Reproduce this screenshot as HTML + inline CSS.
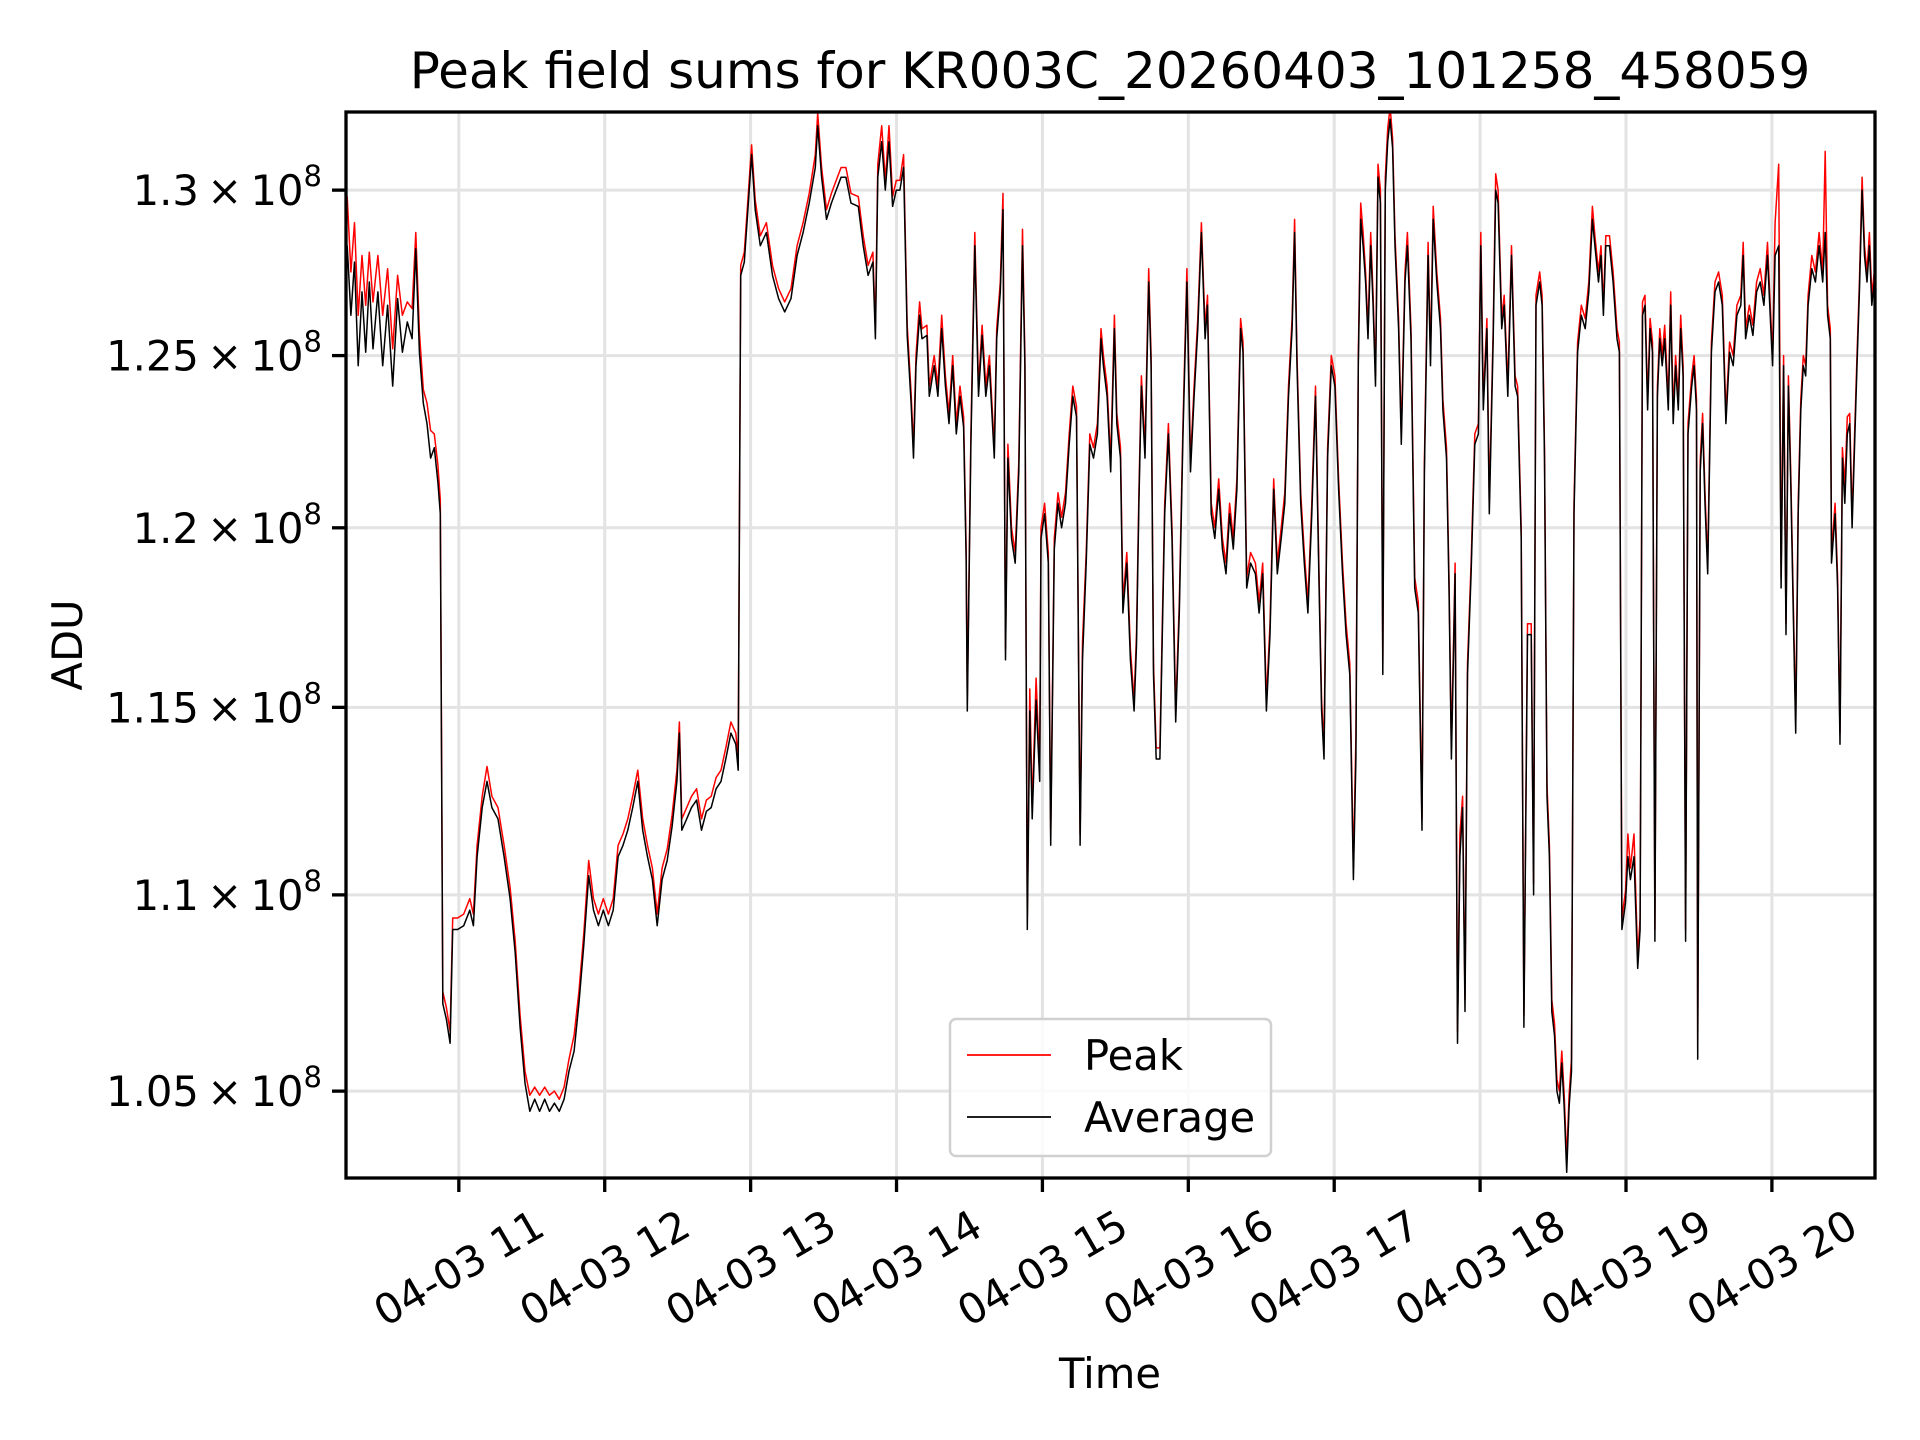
<!DOCTYPE html>
<html><head><meta charset="utf-8">
<style>
html,body{margin:0;padding:0;background:#fff;}
svg{display:block;font-family:"DejaVu Sans","Liberation Sans",sans-serif;}
</style></head>
<body>
<svg id="chart" width="1920" height="1440" viewBox="0 0 1920 1440">
  <defs><clipPath id="plotclip"><rect x="346" y="112" width="1529" height="1066"/></clipPath></defs>
  <rect x="0" y="0" width="1920" height="1440" fill="#fff"/>
  <g id="grid"></g>
  <g id="series" clip-path="url(#plotclip)"></g>
  <rect x="346" y="112" width="1529" height="1066" fill="none" stroke="#000" stroke-width="3.3"/>
  <g id="xticks"></g>
  <g id="yticks"></g>
  <text x="1110" y="88" font-size="50" text-anchor="middle">Peak field sums for KR003C_20260403_101258_458059</text>
  <text x="1110" y="1388" font-size="41.7" text-anchor="middle">Time</text>
  <text x="0" y="0" font-size="41.7" text-anchor="middle" transform="translate(82,645) rotate(-90)">ADU</text>
  <g>
    <rect x="950" y="1019" width="321" height="137" rx="6" fill="#fff" fill-opacity="0.8" stroke="#d0d0d0" stroke-width="2.5"/>
    <line x1="967" y1="1055" x2="1051" y2="1055" stroke="#ff0000" stroke-width="1.7"/>
    <text x="1084" y="1070" font-size="41.7">Peak</text>
    <line x1="967" y1="1117" x2="1051" y2="1117" stroke="#000" stroke-width="1.7"/>
    <text x="1084" y="1132" font-size="41.7">Average</text>
  </g>
</svg>
<script>
const timesMin = [
14.1,15.6,17.1,18.6,20.2,21.7,23.2,24.7,26.7,28.7,
30.7,32.8,34.8,36.8,38.8,40.8,42.3,43.8,45.4,46.9,
48.4,49.9,51.4,52.4,53.4,54.9,56.4,57.5,59.5,62.0,
64.5,66.0,67.5,69.6,71.6,73.6,76.1,78.6,81.1,83.2,
85.2,87.2,89.2,91.2,93.2,95.3,97.3,99.3,101.3,103.3,
105.3,107.4,109.4,111.4,113.4,115.4,117.4,119.4,121.5,123.5,
125.5,127.5,129.5,131.5,133.6,135.6,137.6,139.6,141.6,143.6,
145.7,147.7,149.7,150.7,151.7,153.7,155.7,157.8,159.8,161.8,
163.8,165.8,167.8,169.8,171.9,173.9,174.9,175.9,177.4,178.9,
180.4,181.9,184.0,186.5,189.0,191.5,194.0,196.6,199.1,201.6,
204.1,206.6,207.6,209.2,211.2,213.2,215.2,217.2,219.2,221.3,
224.3,226.3,228.3,230.3,231.3,232.3,233.9,235.4,236.9,238.4,
239.9,241.4,242.9,244.4,246.0,247.0,248.0,249.5,250.5,252.5,
253.5,255.5,257.0,258.6,260.1,261.6,263.1,264.6,266.1,267.6,
268.6,269.1,270.6,272.2,273.7,275.2,276.7,278.2,280.2,281.2,
282.7,283.8,284.8,285.8,287.3,288.8,290.3,291.8,292.8,293.8,
294.8,295.8,297.4,298.9,299.4,300.9,302.4,303.4,304.9,306.4,
307.9,309.5,311.0,312.5,314.0,315.5,316.5,318.0,319.5,321.0,
322.6,324.1,325.1,326.6,328.1,329.6,330.6,332.1,333.1,334.7,
336.2,337.7,338.7,339.7,340.7,342.2,343.7,344.7,345.7,346.8,
348.3,349.3,350.3,351.8,353.3,354.8,356.3,357.8,359.4,360.9,
362.4,363.9,365.4,366.9,367.9,369.4,370.9,372.5,374.0,375.5,
377.0,378.5,380.0,381.5,382.5,384.0,385.6,387.6,389.1,390.6,
392.1,393.6,395.1,396.6,398.2,399.7,401.2,402.7,403.7,404.7,
406.2,407.7,409.2,410.8,412.3,413.8,414.8,415.8,417.3,418.8,
420.3,421.8,423.4,424.9,426.4,427.9,428.9,429.9,430.9,431.9,
432.9,433.9,435.0,436.0,437.0,438.0,439.0,440.0,441.0,442.0,
443.0,444.0,445.0,446.5,447.6,449.1,450.1,451.6,453.1,454.6,
456.1,457.1,458.6,459.6,460.7,462.2,463.7,464.7,466.2,467.2,
468.2,469.7,470.7,471.7,472.8,473.8,474.8,476.3,477.8,479.3,
480.3,481.3,482.8,483.8,485.4,486.4,487.4,488.9,489.9,491.4,
492.9,494.4,495.4,496.9,498.0,499.5,501.0,502.0,503.0,504.5,
505.5,506.5,507.5,508.5,509.5,510.6,511.6,512.6,513.6,514.6,
515.6,516.6,517.6,518.6,520.1,521.6,523.2,524.7,526.2,527.2,
528.7,529.7,530.7,531.7,533.2,534.7,536.3,537.3,538.3,539.8,
540.8,541.8,543.3,544.8,545.8,546.8,547.8,548.9,549.9,550.9,
551.9,552.9,553.9,554.9,555.9,557.4,558.4,559.4,560.4,561.5,
562.5,563.5,564.5,565.5,567.0,568.0,569.0,569.5,570.5,571.5,
572.5,573.6,575.1,576.6,578.1,579.6,581.1,582.6,584.1,585.6,
587.2,588.2,589.2,590.7,592.2,593.7,595.2,596.7,598.2,599.3,
600.3,601.3,602.8,603.8,604.8,605.8,606.8,607.8,608.8,609.8,
610.8,611.9,612.9,613.9,614.9,616.4,617.9,619.4,620.9,621.9,
622.9,624.0,624.5,626.0,627.0,628.0,629.0,630.0,631.0,632.0,
633.0,634.0,635.0,636.0,637.1,638.1,639.1,640.1,641.1,642.1,643.1
];
const averageVals = [
1.283,1.262,1.278,1.247,1.269,1.251,1.272,1.252,1.269,1.247,
1.265,1.241,1.267,1.251,1.260,1.255,1.282,1.251,1.236,1.230,
1.220,1.223,1.213,1.204,1.072,1.068,1.062,1.091,1.091,1.092,
1.096,1.092,1.110,1.123,1.130,1.123,1.120,1.110,1.099,1.085,
1.066,1.052,1.045,1.048,1.045,1.048,1.045,1.047,1.045,1.048,
1.055,1.060,1.072,1.087,1.105,1.096,1.092,1.096,1.092,1.096,
1.110,1.113,1.117,1.123,1.130,1.117,1.110,1.104,1.092,1.104,
1.109,1.118,1.130,1.143,1.117,1.120,1.123,1.125,1.117,1.122,
1.123,1.128,1.130,1.136,1.143,1.140,1.133,1.274,1.278,1.294,
1.311,1.294,1.283,1.287,1.274,1.267,1.263,1.267,1.280,1.287,
1.296,1.307,1.320,1.304,1.291,1.296,1.300,1.304,1.304,1.296,
1.295,1.283,1.274,1.278,1.255,1.304,1.315,1.300,1.315,1.295,
1.300,1.300,1.307,1.256,1.236,1.220,1.247,1.262,1.255,1.256,
1.238,1.247,1.238,1.258,1.241,1.230,1.247,1.227,1.238,1.229,
1.192,1.149,1.224,1.283,1.238,1.256,1.238,1.247,1.220,1.255,
1.269,1.294,1.163,1.220,1.197,1.190,1.216,1.283,1.247,1.091,
1.149,1.120,1.152,1.130,1.197,1.204,1.190,1.113,1.194,1.207,
1.200,1.207,1.224,1.238,1.232,1.113,1.163,1.190,1.224,1.220,
1.227,1.255,1.247,1.238,1.216,1.258,1.230,1.220,1.176,1.190,
1.163,1.149,1.167,1.207,1.241,1.220,1.272,1.247,1.159,1.136,
1.136,1.170,1.204,1.227,1.197,1.146,1.176,1.227,1.272,1.216,
1.238,1.258,1.287,1.255,1.265,1.204,1.197,1.211,1.194,1.187,
1.204,1.194,1.211,1.258,1.251,1.183,1.190,1.187,1.176,1.187,
1.149,1.170,1.211,1.187,1.197,1.207,1.238,1.258,1.287,1.247,
1.207,1.190,1.176,1.204,1.238,1.183,1.149,1.136,1.220,1.247,
1.241,1.211,1.187,1.170,1.159,1.104,1.136,1.247,1.291,1.283,
1.272,1.255,1.283,1.265,1.241,1.304,1.296,1.159,1.300,1.315,
1.322,1.313,1.283,1.258,1.224,1.272,1.283,1.255,1.183,1.176,
1.117,1.216,1.280,1.247,1.291,1.272,1.258,1.234,1.220,1.183,
1.136,1.187,1.062,1.110,1.123,1.070,1.159,1.187,1.224,1.227,
1.283,1.234,1.258,1.204,1.255,1.300,1.296,1.258,1.265,1.238,
1.280,1.241,1.238,1.197,1.066,1.170,1.170,1.100,1.265,1.272,
1.265,1.220,1.126,1.110,1.070,1.064,1.050,1.047,1.057,1.046,
1.030,1.046,1.055,1.204,1.251,1.262,1.258,1.269,1.291,1.283,
1.272,1.280,1.262,1.283,1.283,1.272,1.255,1.251,1.091,1.098,
1.110,1.104,1.110,1.081,1.091,1.262,1.265,1.234,1.258,1.251,
1.088,1.238,1.255,1.247,1.255,1.234,1.265,1.230,1.247,1.234,
1.258,1.244,1.088,1.227,1.241,1.247,1.234,1.058,1.216,1.230,
1.207,1.187,1.251,1.269,1.272,1.265,1.230,1.251,1.247,1.262,
1.265,1.280,1.255,1.262,1.256,1.269,1.272,1.265,1.280,1.262,
1.247,1.280,1.283,1.183,1.247,1.170,1.241,1.211,1.176,1.143,
1.204,1.234,1.247,1.244,1.265,1.276,1.272,1.283,1.272,1.287,
1.262,1.255,1.190,1.204,1.183,1.140,1.220,1.207,1.227,1.230,
1.200,1.224,1.247,1.269,1.300,1.280,1.272,1.283,1.265,1.272,1.276
];
const peakVals = [
1.298,1.275,1.290,1.262,1.280,1.265,1.281,1.266,1.280,1.262,
1.276,1.252,1.274,1.262,1.266,1.264,1.287,1.257,1.240,1.236,
1.228,1.227,1.218,1.208,1.075,1.071,1.065,1.094,1.094,1.095,
1.099,1.095,1.113,1.126,1.134,1.126,1.123,1.113,1.102,1.088,
1.069,1.055,1.049,1.051,1.049,1.051,1.049,1.050,1.048,1.051,
1.058,1.064,1.075,1.090,1.109,1.099,1.095,1.099,1.095,1.099,
1.113,1.116,1.120,1.126,1.133,1.120,1.113,1.107,1.095,1.107,
1.112,1.121,1.133,1.146,1.120,1.123,1.126,1.128,1.120,1.125,
1.126,1.131,1.133,1.139,1.146,1.143,1.136,1.277,1.281,1.297,
1.314,1.297,1.286,1.290,1.277,1.270,1.266,1.270,1.283,1.290,
1.299,1.311,1.324,1.307,1.294,1.299,1.303,1.307,1.307,1.299,
1.298,1.286,1.277,1.281,1.258,1.308,1.320,1.303,1.320,1.298,
1.303,1.303,1.311,1.259,1.239,1.223,1.250,1.266,1.258,1.259,
1.241,1.250,1.241,1.262,1.244,1.233,1.250,1.230,1.241,1.232,
1.195,1.152,1.227,1.287,1.241,1.259,1.241,1.250,1.223,1.258,
1.272,1.299,1.166,1.224,1.200,1.193,1.219,1.288,1.250,1.094,
1.155,1.123,1.158,1.133,1.200,1.207,1.193,1.116,1.197,1.210,
1.203,1.210,1.227,1.241,1.235,1.116,1.168,1.193,1.227,1.223,
1.230,1.258,1.250,1.241,1.219,1.262,1.233,1.223,1.179,1.193,
1.166,1.152,1.170,1.210,1.244,1.223,1.276,1.250,1.162,1.139,
1.139,1.173,1.207,1.230,1.200,1.149,1.179,1.230,1.276,1.219,
1.241,1.261,1.290,1.258,1.268,1.207,1.200,1.214,1.197,1.190,
1.207,1.197,1.214,1.261,1.254,1.186,1.193,1.190,1.179,1.190,
1.152,1.173,1.214,1.190,1.200,1.210,1.241,1.261,1.291,1.250,
1.210,1.193,1.179,1.207,1.241,1.186,1.152,1.139,1.223,1.250,
1.244,1.214,1.190,1.173,1.162,1.107,1.142,1.250,1.296,1.287,
1.275,1.258,1.287,1.268,1.244,1.308,1.300,1.162,1.304,1.319,
1.326,1.316,1.286,1.261,1.227,1.275,1.287,1.258,1.186,1.179,
1.120,1.219,1.284,1.250,1.295,1.275,1.261,1.237,1.223,1.186,
1.139,1.190,1.065,1.116,1.126,1.073,1.162,1.190,1.227,1.230,
1.287,1.237,1.261,1.207,1.258,1.305,1.300,1.261,1.268,1.241,
1.283,1.244,1.241,1.200,1.069,1.173,1.173,1.103,1.268,1.275,
1.268,1.223,1.129,1.113,1.073,1.067,1.053,1.050,1.060,1.049,
1.033,1.049,1.058,1.207,1.254,1.265,1.261,1.272,1.295,1.286,
1.275,1.283,1.265,1.286,1.286,1.275,1.258,1.254,1.094,1.101,
1.116,1.107,1.116,1.084,1.094,1.266,1.268,1.237,1.261,1.254,
1.091,1.241,1.258,1.250,1.259,1.237,1.269,1.233,1.250,1.237,
1.262,1.247,1.091,1.230,1.244,1.250,1.237,1.061,1.219,1.233,
1.210,1.190,1.254,1.272,1.275,1.268,1.233,1.254,1.250,1.265,
1.268,1.284,1.258,1.265,1.259,1.272,1.276,1.268,1.284,1.265,
1.250,1.290,1.308,1.186,1.250,1.173,1.244,1.214,1.179,1.146,
1.207,1.237,1.250,1.247,1.268,1.280,1.275,1.287,1.275,1.312,
1.265,1.258,1.193,1.207,1.186,1.143,1.223,1.212,1.232,1.233,
1.203,1.227,1.250,1.272,1.304,1.283,1.275,1.287,1.268,1.275,1.279
];
const xTickHours = [11,12,13,14,15,16,17,18,19,20];
const xTickLabels = ["04-03 11","04-03 12","04-03 13","04-03 14","04-03 15","04-03 16","04-03 17","04-03 18","04-03 19","04-03 20"];
const yTickVals = [1.05,1.1,1.15,1.2,1.25,1.3];
const yTickLabels = ["1.05","1.1","1.15","1.2","1.25","1.3"];

const NS = "http://www.w3.org/2000/svg";
const PL = 346, PR = 1875, PT = 112, PB = 1178;
const XMIN = 13.6, XMAX = 642.4;
const YMIN = 1.0286, YMAX = 1.3243;
function xScale(m){ return PL + (m - XMIN) / (XMAX - XMIN) * (PR - PL); }
function yScale(v){ return PT + Math.log(YMAX / v) / Math.log(YMAX / YMIN) * (PB - PT); }
function mk(tag, attrs){ const e = document.createElementNS(NS, tag); for (const k in attrs) e.setAttribute(k, attrs[k]); return e; }

const grid = document.getElementById('grid');
const xt = document.getElementById('xticks');
const yt = document.getElementById('yticks');

xTickHours.forEach((h, i) => {
  const x = xScale((h - 10) * 60);
  const gl = mk('line', {x1:x, y1:PT, x2:x, y2:PB, stroke:'#e3e3e3', 'stroke-width':3});
  
  
  grid.appendChild(gl);
  const tk = mk('line', {x1:x, y1:PB, x2:x, y2:PB + 14, stroke:'#000', 'stroke-width':3.3});
  
  
  xt.appendChild(tk);
  const t = mk('text', {x:0, y:0, 'font-size':41.7, 'text-anchor':'middle', 'dominant-baseline':'central', transform:'translate(' + x + ',1268) rotate(-30)'});
  t.textContent = xTickLabels[i];
  
  
  xt.appendChild(t);
});

yTickVals.forEach((v, i) => {
  const y = yScale(v);
  const gl = mk('line', {x1:PL, y1:y, x2:PR, y2:y, stroke:'#e3e3e3', 'stroke-width':3});
  
  
  grid.appendChild(gl);
  const tk = mk('line', {x1:PL - 14, y1:y, x2:PL, y2:y, stroke:'#000', 'stroke-width':3.3});
  
  
  yt.appendChild(tk);
  const t = mk('text', {x:PL - 24, y:y + 15, 'font-size':41.7, 'text-anchor':'end'});
  t.appendChild(document.createTextNode(yTickLabels[i] + '\u2009\u00d7\u200910'));
  const sup = mk('tspan', {'font-size':29, dy:-19});
  sup.textContent = '8';
  t.appendChild(sup);
  
  
  yt.appendChild(t);
});

const series = document.getElementById('series');
function pathFor(vals){
  return vals.map((v, i) => (i ? 'L' : 'M') + xScale(timesMin[i]).toFixed(1) + ',' + yScale(v).toFixed(1)).join('');
}
const peakPath = mk('path', {d:pathFor(peakVals), fill:'none', stroke:'#ff0000', 'stroke-width':1.5, 'stroke-linejoin':'round'});


series.appendChild(peakPath);
const avgPath = mk('path', {d:pathFor(averageVals), fill:'none', stroke:'#000', 'stroke-width':1.5, 'stroke-linejoin':'round'});


series.appendChild(avgPath);
</script>
</body></html>
